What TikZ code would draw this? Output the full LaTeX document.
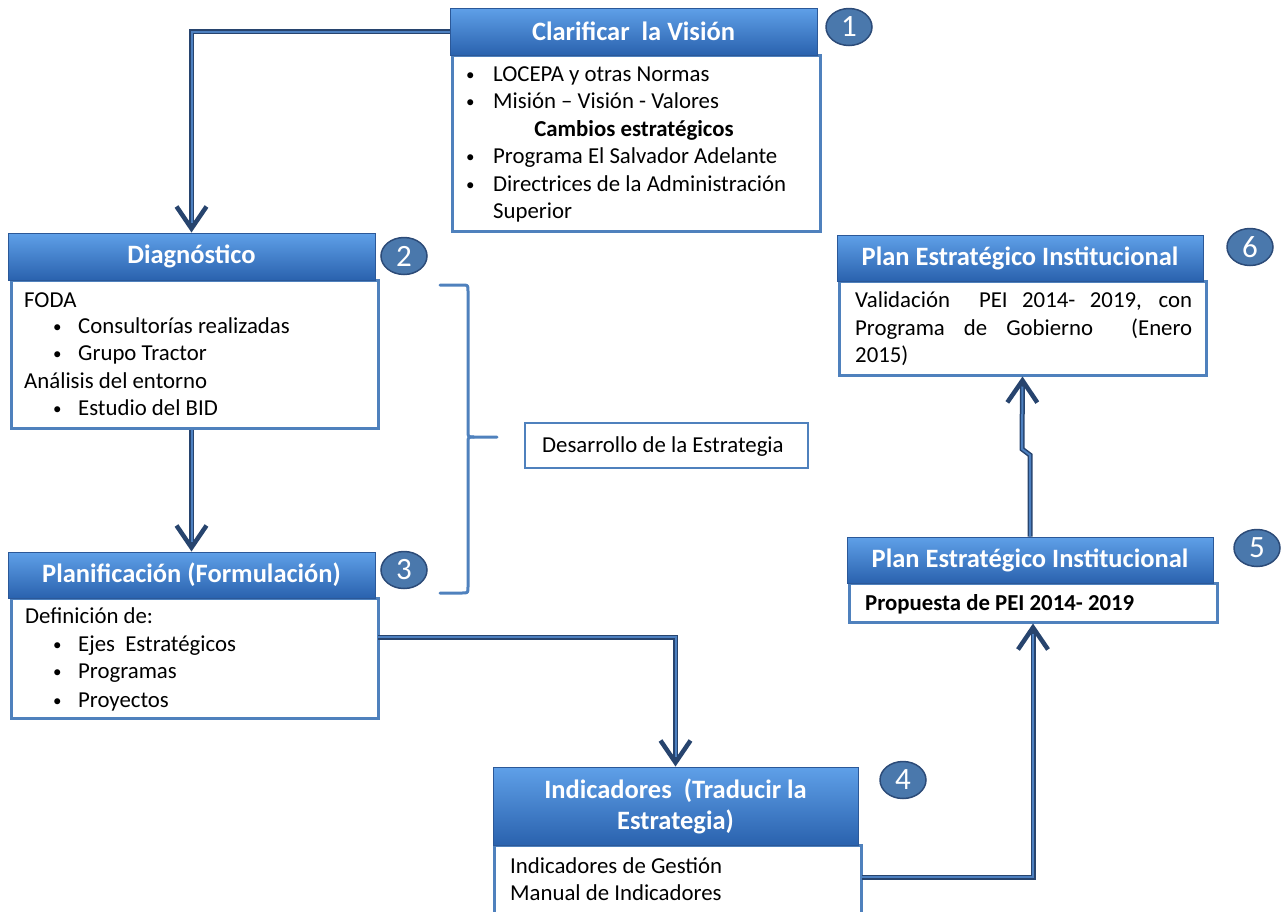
\documentclass[tikz,border=0pt]{standalone}
\usepackage{fontspec}
\setmainfont{Carlito}
\usetikzlibrary{arrows.meta,shapes.geometric,calc}
\definecolor{hdtop}{HTML}{5FA0E8}
\definecolor{hdbot}{HTML}{2A62AE}
\definecolor{hdedge}{HTML}{2B5898}
\definecolor{bodyedge}{HTML}{4F81BD}
\definecolor{arrdark}{HTML}{27446E}
\definecolor{arrlight}{HTML}{4D80C0}
\definecolor{circfill}{HTML}{4A78AC}
\definecolor{circedge}{HTML}{2C4B78}
\newcommand{\smallbul}{{\fontsize{17}{17}\selectfont\textbullet}}
\begin{document}
\begin{tikzpicture}[x=1pt,y=-1pt,
  hdr/.style={rectangle, top color=hdtop, bottom color=hdbot, draw=hdedge, line width=1pt,
    text=white, font=\fontsize{26.5}{31}\selectfont\bfseries, inner sep=0pt, align=center},
  bodybox/.style={rectangle, draw=bodyedge, line width=3pt, fill=white, inner sep=0pt},
  txt/.style={anchor=base west, inner sep=0pt, font=\fontsize{22.8}{27}\selectfont},
  btxt/.style={txt, font=\fontsize{22.8}{27}\selectfont\bfseries},
  num/.style={ellipse, fill=circfill, draw=circedge, line width=1.5pt, text=white,
    minimum width=46pt, minimum height=37pt, inner sep=0pt, font=\fontsize{31}{31}\selectfont},
  arrowout/.style={draw=arrdark, line width=5pt, line join=miter,
    -{Straight Barb[length=22pt,width=30pt,line width'=4.5pt]}},
  arrowin/.style={draw=arrlight, line width=2pt, line join=miter, shorten >=10pt},
  brace/.style={draw=bodyedge, line width=3pt, line cap=round, line join=round}
]
\useasboundingbox (0,0) rectangle (1286,911);

% ---------- box 1 ----------
\node[bodybox, minimum width=368pt, minimum height=176pt] (b1) at (636,143) {};
\node[hdr, minimum width=367pt, minimum height=47pt] (h1) at (633.5,31.5) {Clarificar~ la Visión};
\node[num] (c1) at (849,27) {1};
\node[txt] (t1a) at (466,80) {\smallbul};
\node[txt] (t1b) at (493,81) {LOCEPA y otras Normas};
\node[txt] (t1c) at (466,107) {\smallbul};
\node[txt] (t1d) at (493,108) {Misión – Visión - Valores};
\node[btxt, anchor=base] (t1e) at (634,136) {Cambios estratégicos};
\node[txt] (t1f) at (466,162) {\smallbul};
\node[txt] (t1g) at (493,163) {Programa El Salvador Adelante};
\node[txt] (t1h) at (466,190) {\smallbul};
\node[txt] (t1i) at (493,191) {Directrices de la Administración};
\node[txt] (t1j) at (493,218) {Superior};

% ---------- box 2 ----------
\node[bodybox, minimum width=367pt, minimum height=148pt] (b2) at (194.5,354) {};
\node[hdr, minimum width=367pt, minimum height=47pt] (h2) at (191.5,256.5) {Diagnóstico};
\node[num] (c2) at (404,256) {2};
\node[txt] (t2a) at (24,307) {FODA};
\node[txt] (t2b) at (53,332) {\smallbul};
\node[txt] (t2c) at (78,333) {Consultorías realizadas};
\node[txt] (t2d) at (53,359) {\smallbul};
\node[txt] (t2e) at (78,360) {Grupo Tractor};
\node[txt] (t2f) at (24,388) {Análisis del entorno};
\node[txt] (t2g) at (53,414) {\smallbul};
\node[txt] (t2h) at (78,415) {Estudio del BID};

% ---------- box 3 ----------
\node[bodybox, minimum width=367pt, minimum height=120pt] (b3) at (194.5,658) {};
\node[hdr, minimum width=367pt, minimum height=46pt] (h3) at (191.5,575) {Planificación (Formulación)};
\node[num] (c3) at (404,570) {3};
\node[txt] (t3a) at (25,623) {Definición de:};
\node[txt] (t3b) at (53,650) {\smallbul};
\node[txt] (t3c) at (78,651) {Ejes~ Estratégicos};
\node[txt] (t3d) at (53,677) {\smallbul};
\node[txt] (t3e) at (78,678) {Programas};
\node[txt] (t3f) at (53,706) {\smallbul};
\node[txt] (t3g) at (78,707) {Proyectos};

% ---------- box 4 ----------
\node[bodybox, minimum width=367pt, minimum height=75pt] (b4) at (677.5,882.5) {};
\node[hdr, minimum width=365pt, minimum height=78pt] (h4) at (675.5,806) {Indicadores~ (Traducir la\\Estrategia)};
\node[num] (c4) at (903,780) {4};
\node[txt] (t4a) at (510,873) {Indicadores de Gestión};
\node[txt] (t4b) at (510,900) {Manual de Indicadores};

% ---------- box 5 ----------
\node[bodybox, minimum width=368pt, minimum height=39pt] (b5) at (1033,602.5) {};
\node[hdr, minimum width=366pt, minimum height=46pt] (h5) at (1030,560) {Plan Estratégico Institucional};
\node[num] (c5) at (1257,548) {5};
\node[btxt] (t5a) at (865,610) {Propuesta de PEI 2014- 2019};

% ---------- box 6 ----------
\node[bodybox, minimum width=367pt, minimum height=94pt] (b6) at (1022.5,328) {};
\node[hdr, minimum width=366pt, minimum height=46pt] (h6) at (1020,258) {Plan Estratégico Institucional};
\node[num] (c6) at (1250,247) {6};
\node[txt] (t6a) at (855,307) {\makebox[337pt][s]{Validación~ PEI 2014- 2019, con}};
\node[txt] (t6b) at (855,335) {\makebox[337pt][s]{Programa de Gobierno~ (Enero}};
\node[txt] (t6c) at (855,362) {2015)};

% ---------- Desarrollo ----------
\node[bodybox, line width=2.5pt, minimum width=283pt, minimum height=45pt] (dev) at (666.5,445.5) {};
\node[txt] (tdev) at (542,452) {Desarrollo de la Estrategia};

% ---------- brace ----------
\draw[brace] (440,285) -- (462,285) .. controls (468,285) .. (468,291) -- (468,431)
  .. controls (468,437) .. (474,437) -- (497,437);
\draw[brace] (474,437) .. controls (468,437) .. (468,443) -- (468,587)
  .. controls (468,593) .. (462,593) -- (440,593);

% ---------- connectors ----------
\coordinate (a3s) at (378,637);
\coordinate (a4s) at (862,877);
\coordinate (j1) at (1030,455);
\coordinate (j2) at (1022,449);

\draw[arrowout] (h1.west) -| (h2.north);
\draw[arrowin] (h1.west) -| (h2.north);
\draw[arrowout] (h3.north |- b2.south) -- (h3.north);
\draw[arrowin] (h3.north |- b2.south) -- (h3.north);
\draw[arrowout] (a3s) -| (h4.north);
\draw[arrowin] (a3s) -| (h4.north);
\draw[arrowout] (a4s) -| (b5.south);
\draw[arrowin] (a4s) -| (b5.south);
\draw[arrowout] (h5.north) -- (j1) -- (j2) -- (b6.south);
\draw[arrowin] (h5.north) -- (j1) -- (j2) -- (b6.south);
\end{tikzpicture}
\end{document}
